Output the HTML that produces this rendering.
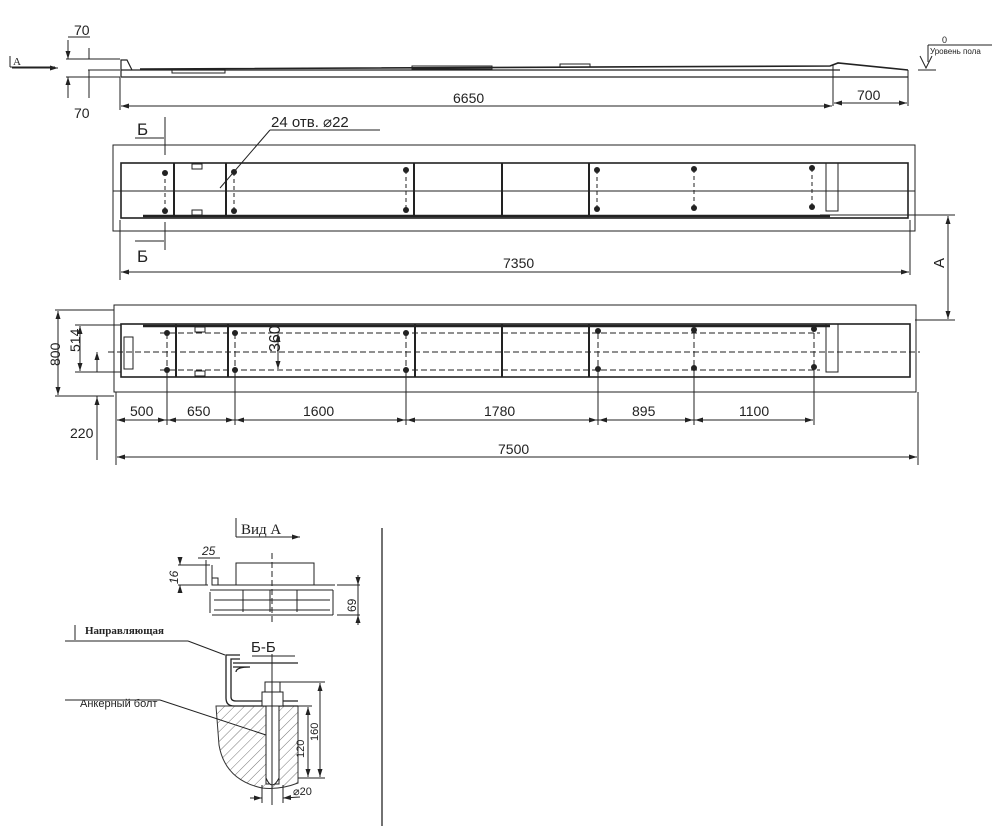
<!DOCTYPE html>
<html><head><meta charset="utf-8"><style>
html,body{margin:0;padding:0;background:#fff;}
svg{display:block;font-family:"Liberation Sans","DejaVu Sans",sans-serif;}
</style></head><body>
<svg width="1000" height="826" viewBox="0 0 1000 826" xmlns="http://www.w3.org/2000/svg">
<defs>
<marker id="ar" markerWidth="8" markerHeight="6" refX="8" refY="3" orient="auto-start-reverse" markerUnits="userSpaceOnUse"><path d="M0,0.5 L8,3 L0,5.5 z" fill="#222"/></marker>
<pattern id="hatch" width="7" height="7" patternUnits="userSpaceOnUse" patternTransform="rotate(45)"><line x1="0" y1="0" x2="0" y2="7" stroke="#555" stroke-width="0.8"/></pattern>
</defs>
<g stroke="#222" fill="none" stroke-width="1">
<!-- ===== Top profile ===== -->
<path d="M10,56 V67 M10,67 H55" />
<line x1="12" y1="68" x2="58" y2="68" marker-end="url(#ar)"/>
<path d="M121,77 H908 M121,70 H840 M121,77 V60 L127,60 L132,70" stroke-width="1.2"/>
<path d="M140,69 L830,66 L838,63 L908,70" stroke-width="1.6"/>
<rect x="172" y="69" width="53" height="4" stroke-width="1"/>
<rect x="412" y="66" width="80" height="3"/>
<rect x="560" y="64" width="30" height="3"/>
<line x1="66" y1="59" x2="120" y2="59"/><line x1="66" y1="77" x2="120" y2="77"/><line x1="88" y1="70" x2="120" y2="70"/>
<line x1="68" y1="40" x2="68" y2="59" marker-end="url(#ar)"/><line x1="68" y1="98" x2="68" y2="77" marker-end="url(#ar)"/>
<line x1="89" y1="48" x2="89" y2="59"/><line x1="89" y1="70" x2="89" y2="98"/>
<line x1="68" y1="37" x2="90" y2="37"/>
<line x1="120" y1="77" x2="120" y2="110"/><line x1="833" y1="65" x2="833" y2="106"/><line x1="908" y1="70" x2="908" y2="106"/>
<line x1="121" y1="106" x2="832" y2="106" marker-start="url(#ar)" marker-end="url(#ar)"/>
<line x1="834" y1="103" x2="907" y2="103" marker-start="url(#ar)" marker-end="url(#ar)"/>
<path d="M928,45 V62 M928,45 H992 M920,56 L926,68 L932,56 M918,70 H936"/>
<!-- ===== Top plan ===== -->
<rect x="113" y="145" width="802" height="86"/>
<rect x="121" y="163" width="787" height="55" stroke-width="1.6"/>
<line x1="113" y1="191" x2="915" y2="191"/>
<line x1="143" y1="216" x2="830" y2="216" stroke-width="2.5"/>
<g stroke-width="2">
<line x1="174" y1="163" x2="174" y2="216"/><line x1="226" y1="163" x2="226" y2="216"/>
<line x1="414" y1="163" x2="414" y2="216"/><line x1="502" y1="163" x2="502" y2="216"/><line x1="589" y1="163" x2="589" y2="216"/>
</g>
<rect x="826" y="163" width="12" height="48"/>
<rect x="192" y="164" width="10" height="5"/><rect x="192" y="210" width="10" height="5"/>
<g stroke-dasharray="4,3">
<line x1="165" y1="172" x2="165" y2="211"/><line x1="234" y1="172" x2="234" y2="211"/><line x1="406" y1="170" x2="406" y2="210"/>
<line x1="597" y1="170" x2="597" y2="210"/><line x1="694" y1="169" x2="694" y2="209"/><line x1="812" y1="168" x2="812" y2="208"/>
</g>
<line x1="165" y1="117" x2="165" y2="155"/><line x1="165" y1="222" x2="165" y2="250"/>
<line x1="135" y1="138" x2="164" y2="138"/><line x1="135" y1="241" x2="164" y2="241"/>
<line x1="220" y1="188" x2="270" y2="130"/><line x1="270" y1="130" x2="380" y2="130"/>
<line x1="120" y1="220" x2="120" y2="280"/><line x1="910" y1="220" x2="910" y2="275"/>
<line x1="121" y1="272" x2="909" y2="272" marker-start="url(#ar)" marker-end="url(#ar)"/>
<line x1="820" y1="215" x2="955" y2="215"/><line x1="915" y1="320" x2="955" y2="320"/>
<line x1="948" y1="216" x2="948" y2="319" marker-start="url(#ar)" marker-end="url(#ar)"/>
<!-- ===== Bottom plan ===== -->
<rect x="114" y="305" width="802" height="87"/>
<rect x="121" y="324" width="789" height="53" stroke-width="1.6"/>
<line x1="143" y1="326" x2="830" y2="326" stroke-width="2.5"/>
<g stroke-width="2">
<line x1="176" y1="324" x2="176" y2="377"/><line x1="228" y1="324" x2="228" y2="377"/>
<line x1="415" y1="324" x2="415" y2="377"/><line x1="502" y1="324" x2="502" y2="377"/><line x1="589" y1="324" x2="589" y2="377"/>
</g>
<rect x="826" y="324" width="12" height="48"/>
<rect x="124" y="337" width="9" height="32"/>
<rect x="195" y="327" width="10" height="5"/><rect x="195" y="371" width="10" height="5"/>
<g stroke-dasharray="6,3">
<line x1="108" y1="352" x2="920" y2="352"/><line x1="160" y1="333" x2="820" y2="333"/><line x1="160" y1="370" x2="820" y2="370"/>
<line x1="167" y1="333" x2="167" y2="370"/><line x1="235" y1="333" x2="235" y2="370"/><line x1="406" y1="333" x2="406" y2="370"/>
<line x1="598" y1="333" x2="598" y2="370"/><line x1="694" y1="333" x2="694" y2="370"/><line x1="814" y1="333" x2="814" y2="370"/>
</g>
<line x1="55" y1="310" x2="114" y2="310"/><line x1="55" y1="396" x2="114" y2="396"/>
<line x1="58" y1="311" x2="58" y2="395" marker-start="url(#ar)" marker-end="url(#ar)"/>
<line x1="75" y1="325" x2="121" y2="325"/><line x1="75" y1="372" x2="121" y2="372"/>
<line x1="80" y1="326" x2="80" y2="371" marker-start="url(#ar)" marker-end="url(#ar)"/>
<line x1="97" y1="352" x2="97" y2="372" marker-start="url(#ar)"/><line x1="97" y1="396" x2="97" y2="460"/>
<line x1="97" y1="420" x2="97" y2="397" marker-end="url(#ar)"/>
<line x1="278" y1="334" x2="278" y2="369" marker-start="url(#ar)" marker-end="url(#ar)"/>
<line x1="167" y1="370" x2="167" y2="425"/><line x1="235" y1="370" x2="235" y2="425"/><line x1="406" y1="370" x2="406" y2="425"/>
<line x1="598" y1="370" x2="598" y2="425"/><line x1="694" y1="370" x2="694" y2="425"/><line x1="814" y1="370" x2="814" y2="425"/>
<line x1="116" y1="392" x2="116" y2="465"/><line x1="918" y1="392" x2="918" y2="465"/>
<line x1="117" y1="420" x2="813" y2="420"/>
<g>
<line x1="117" y1="420" x2="166" y2="420" marker-start="url(#ar)" marker-end="url(#ar)"/>
<line x1="168" y1="420" x2="234" y2="420" marker-start="url(#ar)" marker-end="url(#ar)"/>
<line x1="236" y1="420" x2="405" y2="420" marker-start="url(#ar)" marker-end="url(#ar)"/>
<line x1="407" y1="420" x2="597" y2="420" marker-start="url(#ar)" marker-end="url(#ar)"/>
<line x1="599" y1="420" x2="693" y2="420" marker-start="url(#ar)" marker-end="url(#ar)"/>
<line x1="695" y1="420" x2="813" y2="420" marker-start="url(#ar)" marker-end="url(#ar)"/>
</g>
<line x1="117" y1="457" x2="917" y2="457" marker-start="url(#ar)" marker-end="url(#ar)"/>
<!-- separator -->
<line x1="382" y1="528" x2="382" y2="826" stroke="#444" stroke-width="1.5"/>
<!-- ===== Вид А ===== -->
<line x1="236" y1="537" x2="300" y2="537" marker-end="url(#ar)"/>
<line x1="236" y1="518" x2="236" y2="537"/>
<rect x="236" y="563" width="78" height="22"/>
<line x1="272" y1="553" x2="272" y2="622" stroke-dasharray="6,3"/>
<path d="M212,585 H335 M210,590 H333 M212,615 H333 M210,592 V613 M333,590 V615"/>
<path d="M214,600 H330 M214,610 H330 M243,590 V612 M270,590 V612 M297,590 V612"/>
<path d="M212,565 V585 H218 V578 H212"/>
<line x1="198" y1="558" x2="220" y2="558"/><line x1="206" y1="560" x2="206" y2="585"/>
<line x1="178" y1="565" x2="210" y2="565"/><line x1="178" y1="585" x2="208" y2="585"/>
<line x1="180" y1="560" x2="180" y2="565" marker-end="url(#ar)"/><line x1="180" y1="592" x2="180" y2="585" marker-end="url(#ar)"/>
<line x1="337" y1="585" x2="360" y2="585"/><line x1="337" y1="615" x2="360" y2="615"/>
<line x1="358" y1="575" x2="358" y2="585" marker-end="url(#ar)"/><line x1="358" y1="625" x2="358" y2="615" marker-end="url(#ar)"/>
<line x1="358" y1="585" x2="358" y2="615"/>
<!-- ===== Б-Б ===== -->
<line x1="75" y1="625" x2="75" y2="640"/><line x1="65" y1="641" x2="188" y2="641"/><line x1="188" y1="641" x2="225" y2="655"/>
<line x1="252" y1="656" x2="295" y2="656"/>
<path d="M216,706 H298 V783 Q280,790 262,788 Q225,780 219,745 Z" fill="url(#hatch)" stroke="#333"/>
<path d="M240,655 H226 V698 Q226,706 234,706 H298 M240,659 H231 V697 Q231,701 236,701 H298 M233,663 H298 M233,667 H250 Q236,667 236,672" stroke-width="1.3"/>
<rect x="265" y="682" width="15" height="10" fill="#fff"/>
<rect x="262" y="692" width="21" height="14" fill="#fff"/>
<rect x="266" y="706" width="13" height="78" fill="#fff"/>
<path d="M266,760 V778 Q272,792 279,778 V760" fill="#fff"/>
<line x1="272" y1="654" x2="272" y2="805"/>
<line x1="280" y1="682" x2="325" y2="682"/><line x1="298" y1="706" x2="312" y2="706"/><line x1="298" y1="778" x2="325" y2="778"/>
<line x1="320" y1="683" x2="320" y2="777" marker-start="url(#ar)" marker-end="url(#ar)"/>
<line x1="308" y1="707" x2="308" y2="777" marker-start="url(#ar)" marker-end="url(#ar)"/>
<line x1="65" y1="700" x2="160" y2="700"/><line x1="160" y1="700" x2="266" y2="735"/>
<line x1="262" y1="785" x2="262" y2="803"/><line x1="283" y1="785" x2="283" y2="803"/>
<line x1="250" y1="798" x2="262" y2="798" marker-end="url(#ar)"/><line x1="300" y1="797" x2="283" y2="798" marker-end="url(#ar)"/>
</g>
<g fill="#222">
<g id="dotsT">
<circle cx="165" cy="173" r="3"/><circle cx="165" cy="211" r="3"/><circle cx="234" cy="172" r="3"/><circle cx="234" cy="211" r="3"/>
<circle cx="406" cy="170" r="3"/><circle cx="406" cy="210" r="3"/><circle cx="597" cy="170" r="3"/><circle cx="597" cy="209" r="3"/>
<circle cx="694" cy="169" r="3"/><circle cx="694" cy="208" r="3"/><circle cx="812" cy="168" r="3"/><circle cx="812" cy="207" r="3"/>
</g>
<circle cx="167" cy="333" r="3"/><circle cx="167" cy="370" r="3"/><circle cx="235" cy="333" r="3"/><circle cx="235" cy="370" r="3"/>
<circle cx="406" cy="333" r="3"/><circle cx="406" cy="370" r="3"/><circle cx="598" cy="331" r="3"/><circle cx="598" cy="369" r="3"/>
<circle cx="694" cy="330" r="3"/><circle cx="694" cy="368" r="3"/><circle cx="814" cy="329" r="3"/><circle cx="814" cy="367" r="3"/>
</g>
<g fill="#222" font-size="14">
<text x="13" y="65" font-family="Liberation Serif" font-size="11">A</text>
<text x="74" y="35">70</text><text x="74" y="118">70</text>
<text x="453" y="103">6650</text><text x="857" y="100">700</text>
<text x="942" y="43" font-size="9">0</text><text x="930" y="54" font-size="8">Уровень пола</text>
<text x="271" y="127" font-size="15">24 отв. ⌀22</text>
<text x="137" y="135" font-size="17">Б</text><text x="137" y="262" font-size="17">Б</text>
<text x="503" y="268">7350</text>
<text transform="translate(944,268) rotate(-90)" font-size="15">A</text>
<text transform="translate(80,352) rotate(-90)">514</text>
<text transform="translate(60,366) rotate(-90)">800</text>
<text transform="translate(280,352) rotate(-90)" font-size="16">360</text>
<text x="70" y="438">220</text>
<text x="130" y="416">500</text><text x="187" y="416">650</text><text x="303" y="416">1600</text>
<text x="484" y="416">1780</text><text x="632" y="416">895</text><text x="739" y="416">1100</text>
<text x="498" y="454">7500</text>
<text x="241" y="534" font-family="Liberation Serif" font-size="15">Вид  А</text>
<text x="202" y="555" font-style="italic" font-size="12">25</text>
<text transform="translate(178,584) rotate(-90)" font-style="italic" font-size="12">16</text>
<text transform="translate(356,612) rotate(-90)" font-size="12">69</text>
<text x="85" y="634" font-family="Liberation Serif" font-weight="bold" font-size="11">Направляющая</text>
<text x="251" y="652" font-size="15">Б-Б</text>
<text x="80" y="707" font-size="11">Анкерный болт</text>
<text transform="translate(304,758) rotate(-90)" font-size="11">120</text>
<text transform="translate(318,741) rotate(-90)" font-size="11">160</text>
<text x="293" y="795" font-size="11">⌀20</text>
</g>
</svg>
</body></html>
